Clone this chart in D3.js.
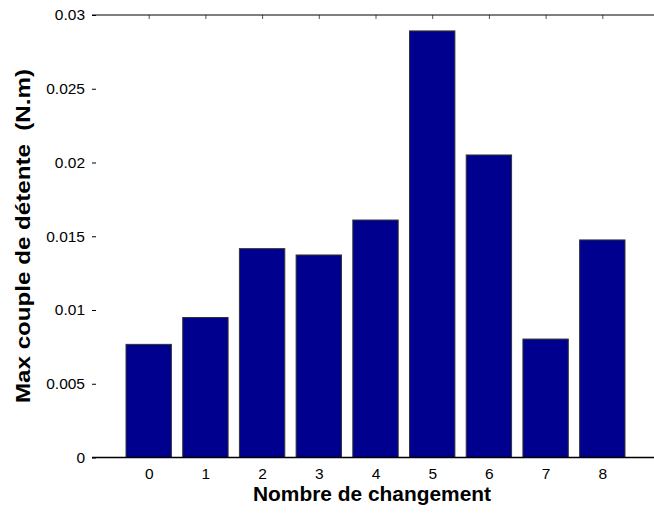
<!DOCTYPE html>
<html>
<head>
<meta charset="utf-8">
<script src="https://cdn.jsdelivr.net/npm/d3@7/dist/d3.min.js"></script>
<style>
  body { margin: 0; background: #fff; }
  svg { display: block; font-family: "Liberation Sans", Arial, sans-serif; }
</style>
</head>
<body>
<svg id="chart" width="654" height="514"></svg>
<script>
// Peak cogging torque for each number of changes
const categories = [0, 1, 2, 3, 4, 5, 6, 7, 8];
const maxTorque = [0.00767, 0.00949, 0.01416, 0.01373, 0.0161, 0.02892, 0.02051, 0.00803, 0.01475];
const yTicks = [0, 0.005, 0.01, 0.015, 0.02, 0.025, 0.03];
const xLabel = "Nombre de changement";
const yLabel = "Max couple de détente  (N.m)";

const svg = d3.select("#chart");
const W = 654;

const x = d3.scaleLinear().domain([-1, 9]).range([92, 659]);
const y = d3.scaleLinear().domain([0, 0.03]).range([457.5, 15]);
const barW = (x(1) - x(0)) * 0.8;

// bars
svg.append("g").selectAll("rect")
  .data(categories)
  .join("rect")
  .attr("x", (d) => x(d) - barW / 2)
  .attr("width", barW)
  .attr("y", (d, i) => y(maxTorque[i]))
  .attr("height", (d, i) => y(0) - y(maxTorque[i]))
  .attr("fill", "#00008f")
  .attr("stroke", "#333")
  .attr("stroke-width", 1);

// left axis: inward ticks, no spine
const fmt = (d) => d === 0 ? "0" : String(+d.toFixed(3));
const yAxis = svg.append("g")
  .attr("transform", `translate(${x(-1)},0)`)
  .call(d3.axisLeft(y).tickValues(yTicks).tickSize(-4).tickPadding(7).tickFormat(fmt));
yAxis.select(".domain").remove();
yAxis.selectAll("text").attr("font-size", 15.5).attr("fill", "#000")
  .attr("font-family", "Liberation Sans, Arial, sans-serif");
yAxis.selectAll("line").attr("stroke", "#000");

// bottom axis labels
const xAxis = svg.append("g")
  .attr("transform", `translate(0,${y(0)})`)
  .call(d3.axisBottom(x).tickValues(categories).tickSize(0).tickPadding(10).tickFormat(d3.format("d")));
xAxis.select(".domain").remove();
xAxis.selectAll("text").attr("font-size", 15.5).attr("fill", "#000")
  .attr("font-family", "Liberation Sans, Arial, sans-serif");

// top axis: small downward ticks
const topAxis = svg.append("g")
  .attr("transform", `translate(0,${y(0.03)})`)
  .call(d3.axisTop(x).tickValues(categories).tickSize(-4).tickFormat(""));
topAxis.select(".domain").remove();
topAxis.selectAll("line").attr("stroke", "#555");

// frame lines (top and baseline)
svg.append("line").attr("x1", x(-1)).attr("x2", W).attr("y1", y(0.03)).attr("y2", y(0.03))
  .attr("stroke", "#000").attr("stroke-width", 1.2);
svg.append("line").attr("x1", x(-1)).attr("x2", W).attr("y1", y(0)).attr("y2", y(0))
  .attr("stroke", "#000").attr("stroke-width", 1.6);

// axis titles
svg.append("text")
  .attr("x", 372).attr("y", 501)
  .attr("text-anchor", "middle")
  .attr("font-size", 19.5).attr("font-weight", "bold")
  .attr("textLength", 238).attr("lengthAdjust", "spacingAndGlyphs")
  .text(xLabel);

svg.append("text")
  .attr("transform", `translate(30,${236}) rotate(-90)`)
  .attr("text-anchor", "middle")
  .attr("font-size", 19.5).attr("font-weight", "bold")
  .attr("textLength", 334).attr("lengthAdjust", "spacingAndGlyphs")
  .style("white-space", "pre")
  .text(yLabel);
</script>
</body>
</html>
